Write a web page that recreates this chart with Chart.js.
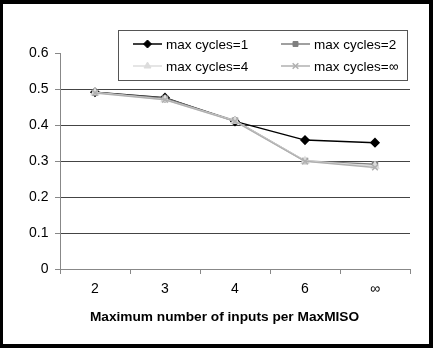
<!DOCTYPE html>
<html>
<head>
<meta charset="utf-8">
<script src="https://cdn.jsdelivr.net/npm/chart.js@4.4.0/dist/chart.umd.min.js"></script>
<style>
  html, body { margin: 0; padding: 0; background: #fff; }
  #contenedor { width: 433px; height: 348px; position: relative; }
</style>
</head>
<body>
<div id="contenedor"><canvas id="grafica"></canvas></div>
<script>
//--------------------- Datos -------------------------------------------
const etiquetasX = ['2', '3', '4', '6', '∞'];
const nombresSeries = ['max cycles=1', 'max cycles=2', 'max cycles=4', 'max cycles=∞'];
const ciclos1   = [0.491, 0.476, 0.410, 0.358, 0.351];
const ciclos2   = [0.490, 0.474, 0.412, 0.300, 0.291];
const ciclos4   = [0.490, 0.471, 0.411, 0.300, 0.286];
const ciclosInf = [0.489, 0.470, 0.410, 0.299, 0.282];
const tituloX = 'Maximum number of inputs per MaxMISO';

const fuente = '"Liberation Sans", Arial, sans-serif';

//--------------------- Fondo, marco, leyenda y título --------------------
const marcoYLeyenda = {
  id: 'marcoYLeyenda',
  beforeDraw(chart) {
    const ctx = chart.ctx;
    ctx.save();
    ctx.fillStyle = '#fff';
    ctx.fillRect(0, 0, chart.width, chart.height);
    ctx.restore();
  },
  afterDraw(chart) {
    const ctx = chart.ctx;
    ctx.save();
    // marco negro grueso
    ctx.fillStyle = '#000';
    ctx.fillRect(0, 0, 3, 348);
    ctx.fillRect(0, 0, 433, 4);
    ctx.fillRect(429, 0, 4, 348);
    ctx.fillRect(0, 344, 433, 4);

    // caja de la leyenda
    ctx.fillStyle = '#fff';
    ctx.fillRect(118, 30, 289, 50);
    ctx.strokeStyle = '#555';
    ctx.lineWidth = 1;
    ctx.strokeRect(118.5, 30.5, 289, 50);

    const posiciones = [[133, 44], [281, 44], [133, 66], [281, 66]];
    chart.data.datasets.forEach((ds, i) => {
      const [x, y] = posiciones[i];
      ctx.strokeStyle = ds.borderColor;
      ctx.lineWidth = 1.5;
      ctx.beginPath();
      ctx.moveTo(x, y);
      ctx.lineTo(x + 29, y);
      ctx.stroke();
      ctx.fillStyle = ds.backgroundColor;
      ctx.strokeStyle = ds.borderColor;
      ctx.lineWidth = ds.pointBorderWidth || 1;
      Chart.helpers.drawPoint(ctx, {
        pointStyle: ds.pointStyle, radius: ds.pointRadius,
        borderWidth: ds.pointBorderWidth || 1, rotation: 0
      }, x + 14.5, y);
      ctx.fillStyle = '#000';
      ctx.font = '13.5px ' + fuente;
      ctx.textAlign = 'left';
      ctx.textBaseline = 'middle';
      ctx.fillText(ds.label, x + 33, y + 1);
    });

    // título del eje x
    ctx.fillStyle = '#000';
    ctx.font = 'bold 13.7px ' + fuente;
    ctx.textAlign = 'center';
    ctx.textBaseline = 'middle';
    ctx.fillText(tituloX, 224.5, 317.5);
    ctx.restore();
  }
};

//--------------------- Gráfica de líneas -----------------------
const ctxLineas = document.getElementById('grafica').getContext('2d');
const grafica = new Chart(ctxLineas, {
  type: 'line',
  data: {
    labels: etiquetasX,
    datasets: [
      { label: nombresSeries[0], data: ciclos1, borderColor: '#000', backgroundColor: '#000',
        pointStyle: 'rectRot', pointRadius: 4, borderWidth: 1.5, order: 4 },
      { label: nombresSeries[1], data: ciclos2, borderColor: '#808080', backgroundColor: '#808080',
        pointStyle: 'rect', pointRadius: 3.5, borderWidth: 1.5, order: 3 },
      { label: nombresSeries[2], data: ciclos4, borderColor: '#dcdcdc', backgroundColor: '#dcdcdc',
        pointStyle: 'triangle', pointRadius: 4, borderWidth: 1.5, order: 2 },
      { label: nombresSeries[3], data: ciclosInf, borderColor: '#b0b0b0', backgroundColor: '#b0b0b0',
        pointStyle: 'crossRot', pointRadius: 4, pointBorderWidth: 1.5, borderWidth: 1.5, order: 1 }
    ]
  },
  options: {
    responsive: true,
    maintainAspectRatio: false,
    animation: false,
    layout: { padding: { left: 0, right: 23, top: 53, bottom: 10 } },
    plugins: { legend: { display: false }, tooltip: { enabled: false } },
    elements: { line: { tension: 0 } },
    scales: {
      x: {
        offset: true,
        afterFit: s => { s.height = 69; },
        grid: { offset: true, drawOnChartArea: false, tickLength: 5, color: '#888' },
        border: { color: '#888' },
        ticks: { padding: 7, color: '#000', font: { family: fuente, size: 14 } }
      },
      y: {
        min: 0,
        max: 0.6,
        afterFit: s => { s.width = 60; },
        grid: {
          tickLength: 5,
          tickColor: '#888',
          color: c => c.tick.value === 0 ? '#888' : (c.tick.value > 0.59 ? 'rgba(0,0,0,0)' : '#444')
        },
        border: { color: '#888' },
        ticks: {
          stepSize: 0.1, padding: 6.5, color: '#000', font: { family: fuente, size: 14 },
          callback: v => v === 0 ? '0' : v.toFixed(1)
        }
      }
    }
  },
  plugins: [marcoYLeyenda]
});
</script>
</body>
</html>
